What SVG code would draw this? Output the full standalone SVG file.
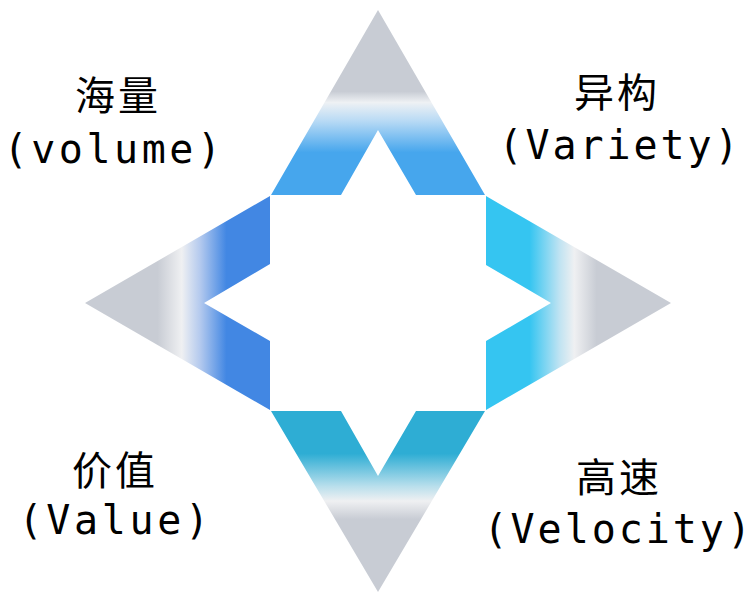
<svg xmlns="http://www.w3.org/2000/svg" width="753" height="593" viewBox="0 0 753 593">
  <style>
    .cjk { font-family: "Noto Sans CJK SC", "DejaVu Sans", sans-serif; font-size: 40px; fill: #000; text-anchor: middle; letter-spacing: 3px; }
    .lat { font-family: "DejaVu Sans Mono", "Liberation Mono", monospace; font-size: 40px; fill: #000; }
  </style>
  <defs>
    <linearGradient id="gTop" gradientUnits="userSpaceOnUse" x1="0" y1="10" x2="0" y2="195">
      <stop offset="0" stop-color="#c8ccd4"/>
      <stop offset="0.44" stop-color="#c8ccd4"/>
      <stop offset="0.50" stop-color="#eef1f4"/>
      <stop offset="0.60" stop-color="#b8daf5"/>
      <stop offset="0.77" stop-color="#46a6ed"/>
      <stop offset="1" stop-color="#46a6ed"/>
    </linearGradient>
    <linearGradient id="gRight" gradientUnits="userSpaceOnUse" x1="485" y1="0" x2="671" y2="0">
      <stop offset="0" stop-color="#35c5f1"/>
      <stop offset="0.24" stop-color="#35c5f1"/>
      <stop offset="0.40" stop-color="#bfe3f2"/>
      <stop offset="0.48" stop-color="#eff0f2"/>
      <stop offset="0.60" stop-color="#c8ccd4"/>
      <stop offset="1" stop-color="#c8ccd4"/>
    </linearGradient>
    <linearGradient id="gBottom" gradientUnits="userSpaceOnUse" x1="0" y1="410" x2="0" y2="592">
      <stop offset="0" stop-color="#2eadd4"/>
      <stop offset="0.24" stop-color="#2eadd4"/>
      <stop offset="0.42" stop-color="#b9dfec"/>
      <stop offset="0.50" stop-color="#eff0f2"/>
      <stop offset="0.60" stop-color="#c8ccd4"/>
      <stop offset="1" stop-color="#c8ccd4"/>
    </linearGradient>
    <linearGradient id="gLeft" gradientUnits="userSpaceOnUse" x1="85" y1="0" x2="271" y2="0">
      <stop offset="0" stop-color="#c8ccd4"/>
      <stop offset="0.39" stop-color="#c8ccd4"/>
      <stop offset="0.52" stop-color="#eff0f2"/>
      <stop offset="0.62" stop-color="#b3c9ee"/>
      <stop offset="0.76" stop-color="#4287e3"/>
      <stop offset="1" stop-color="#4287e3"/>
    </linearGradient>
  </defs>
  <rect width="753" height="593" fill="#ffffff"/>

  <g id="arrow-top">
    <polygon points="378,10 485,195 416,195 378,130 341,195 271,195" fill="url(#gTop)"/>
  </g>
  <g id="arrow-right">
    <polygon points="486,196 671,303 486,410 486,341 551,303 486,265" fill="url(#gRight)"/>
  </g>
  <g id="arrow-bottom">
    <polygon points="271,411 341,411 378,476 416,411 485,411 378,592" fill="url(#gBottom)"/>
  </g>
  <g id="arrow-left">
    <polygon points="270,196 270,264 204,303 270,341 270,410 85,303" fill="url(#gLeft)"/>
  </g>

  <g id="label-volume">
    <text class="cjk" x="118" y="110">海量</text>
    <text class="lat" x="3.5" y="163" textLength="217.5">(volume)</text>
  </g>
  <g id="label-variety">
    <text class="cjk" x="617" y="107">异构</text>
    <text class="lat" x="498.5" y="159" textLength="240">(Variety)</text>
  </g>
  <g id="label-value">
    <text class="cjk" x="115" y="485">价值</text>
    <text class="lat" x="18.5" y="534" textLength="190.5">(Value)</text>
  </g>
  <g id="label-velocity">
    <text class="cjk" x="619" y="492">高速</text>
    <text class="lat" x="483.5" y="543" textLength="267.5">(Velocity)</text>
  </g>
</svg>
